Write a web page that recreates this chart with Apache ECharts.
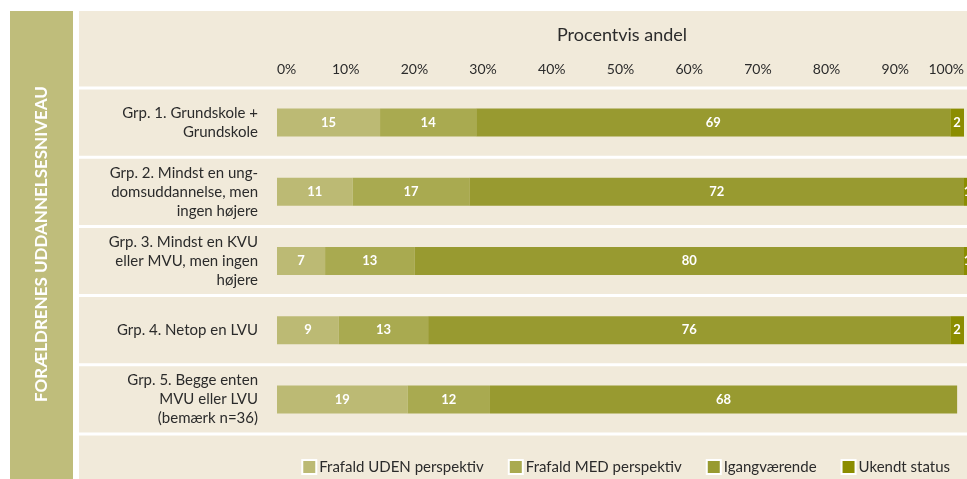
<!DOCTYPE html>
<html>
<head>
    <meta charset="UTF-8">
    <title>Forældrenes uddannelsesniveau</title>
    <script type="text/javascript" src="https://cdn.jsdelivr.net/npm/echarts@6/dist/echarts.min.js"></script>
    <style>
        html, body { margin: 0; padding: 0; background: #fff; }
        #chart { width: 967px; height: 479px; }
    </style>
</head>
<body>
<div id="chart"></div>

<script type="text/javascript">
    var groups = [
        'Grp. 1. Grundskole +\nGrundskole',
        'Grp. 2. Mindst en ung-\ndomsuddannelse, men\ningen højere',
        'Grp. 3. Mindst en KVU\neller MVU, men ingen\nhøjere',
        'Grp. 4. Netop en LVU',
        'Grp. 5. Begge enten\nMVU eller LVU\n(bemærk n=36)'
    ];
    var seriesNames = ['Frafald UDEN perspektiv', 'Frafald MED perspektiv', 'Igangværende', 'Ukendt status'];
    var udenValues = [15, 11, 7, 9, 19];
    var medValues = [14, 17, 13, 13, 12];
    var igangValues = [69, 72, 80, 76, 68];
    var ukendtValues = [2, 1, 1, 2, 0];
    var tickValues = [0, 10, 20, 30, 40, 50, 60, 70, 80, 90, 100];

    var colors = ['#bcba74', '#a9aa50', '#989a30', '#8b8d00'];
    var seriesData = [udenValues, medValues, igangValues, ukendtValues];

    var chart = echarts.init(document.getElementById('chart'));

    // hvide skillelinjer mellem rækkerne
    var lines = [];
    for (var i = 0; i <= groups.length; i++) {
        var y = 88 + i * 69.2;
        lines.push({
            type: 'line',
            shape: {x1: 79, y1: y, x2: 967, y2: y},
            style: {stroke: '#ffffff', lineWidth: 3},
            z: 1
        });
    }

    var series = [];
    for (var s = 0; s < seriesNames.length; s++) {
        series.push({
            name: seriesNames[s],
            type: 'bar',
            stack: 'total',
            barWidth: 28,
            clip: false,
            z: 5,
            itemStyle: {color: colors[s]},
            label: {
                show: true,
                position: 'inside',
                color: '#ffffff',
                fontFamily: 'Lato',
                fontWeight: 'bold',
                fontSize: 13,
                formatter: function (p) { return p.value > 0 ? p.value : ''; }
            },
            data: seriesData[s]
        });
    }

    chart.setOption({
        animation: false,
        color: colors,
        textStyle: {fontFamily: 'Lato'},
        graphic: [
            {
                type: 'rect',
                shape: {x: 10, y: 11, width: 63, height: 468},
                style: {fill: '#bfbd7b'},
                z: 0
            },
            {
                type: 'rect',
                shape: {x: 79, y: 11, width: 888, height: 468},
                style: {fill: '#f1eada'},
                z: 0
            },
            {
                type: 'text',
                x: 42,
                y: 244,
                rotation: Math.PI / 2,
                style: {
                    text: 'FORÆLDRENES UDDANNELSESNIVEAU',
                    fill: '#ffffff',
                    font: 'bold 17px Lato',
                    align: 'center',
                    verticalAlign: 'middle'
                },
                z: 2
            },
            {
                type: 'text',
                x: 622,
                y: 35,
                style: {
                    text: 'Procentvis andel',
                    fill: '#2b2b2b',
                    font: '18px Lato',
                    align: 'center',
                    verticalAlign: 'middle'
                },
                z: 2
            }
        ].concat(lines),
        legend: {
            data: seriesNames,
            right: 12,
            top: 454,
            icon: 'rect',
            itemWidth: 14,
            itemHeight: 14,
            itemGap: 24,
            itemStyle: {borderColor: '#ffffff', borderWidth: 2},
            textStyle: {color: '#2b2b2b', fontSize: 15, fontFamily: 'Lato', padding: [0, 0, 0, -2]}
        },
        grid: {
            left: 277,
            right: 3,
            top: 88,
            height: 346,
            containLabel: false
        },
        xAxis: {
            type: 'value',
            position: 'top',
            min: 0,
            max: 100,
            interval: 10,
            axisLine: {show: false},
            axisTick: {show: false},
            splitLine: {show: false},
            axisLabel: {
                margin: 12,
                color: '#2b2b2b',
                fontSize: 14,
                alignMinLabel: 'left',
                alignMaxLabel: 'right',
                formatter: function (v) { return tickValues.indexOf(v) >= 0 ? v + '%' : ''; }
            }
        },
        yAxis: {
            type: 'category',
            inverse: true,
            data: groups,
            axisLine: {show: false},
            axisTick: {show: false},
            splitLine: {show: false},
            axisLabel: {
                margin: 19,
                color: '#2b2b2b',
                fontSize: 15,
                lineHeight: 19,
                align: 'right'
            }
        },
        series: series
    });
</script>
</body>
</html>
